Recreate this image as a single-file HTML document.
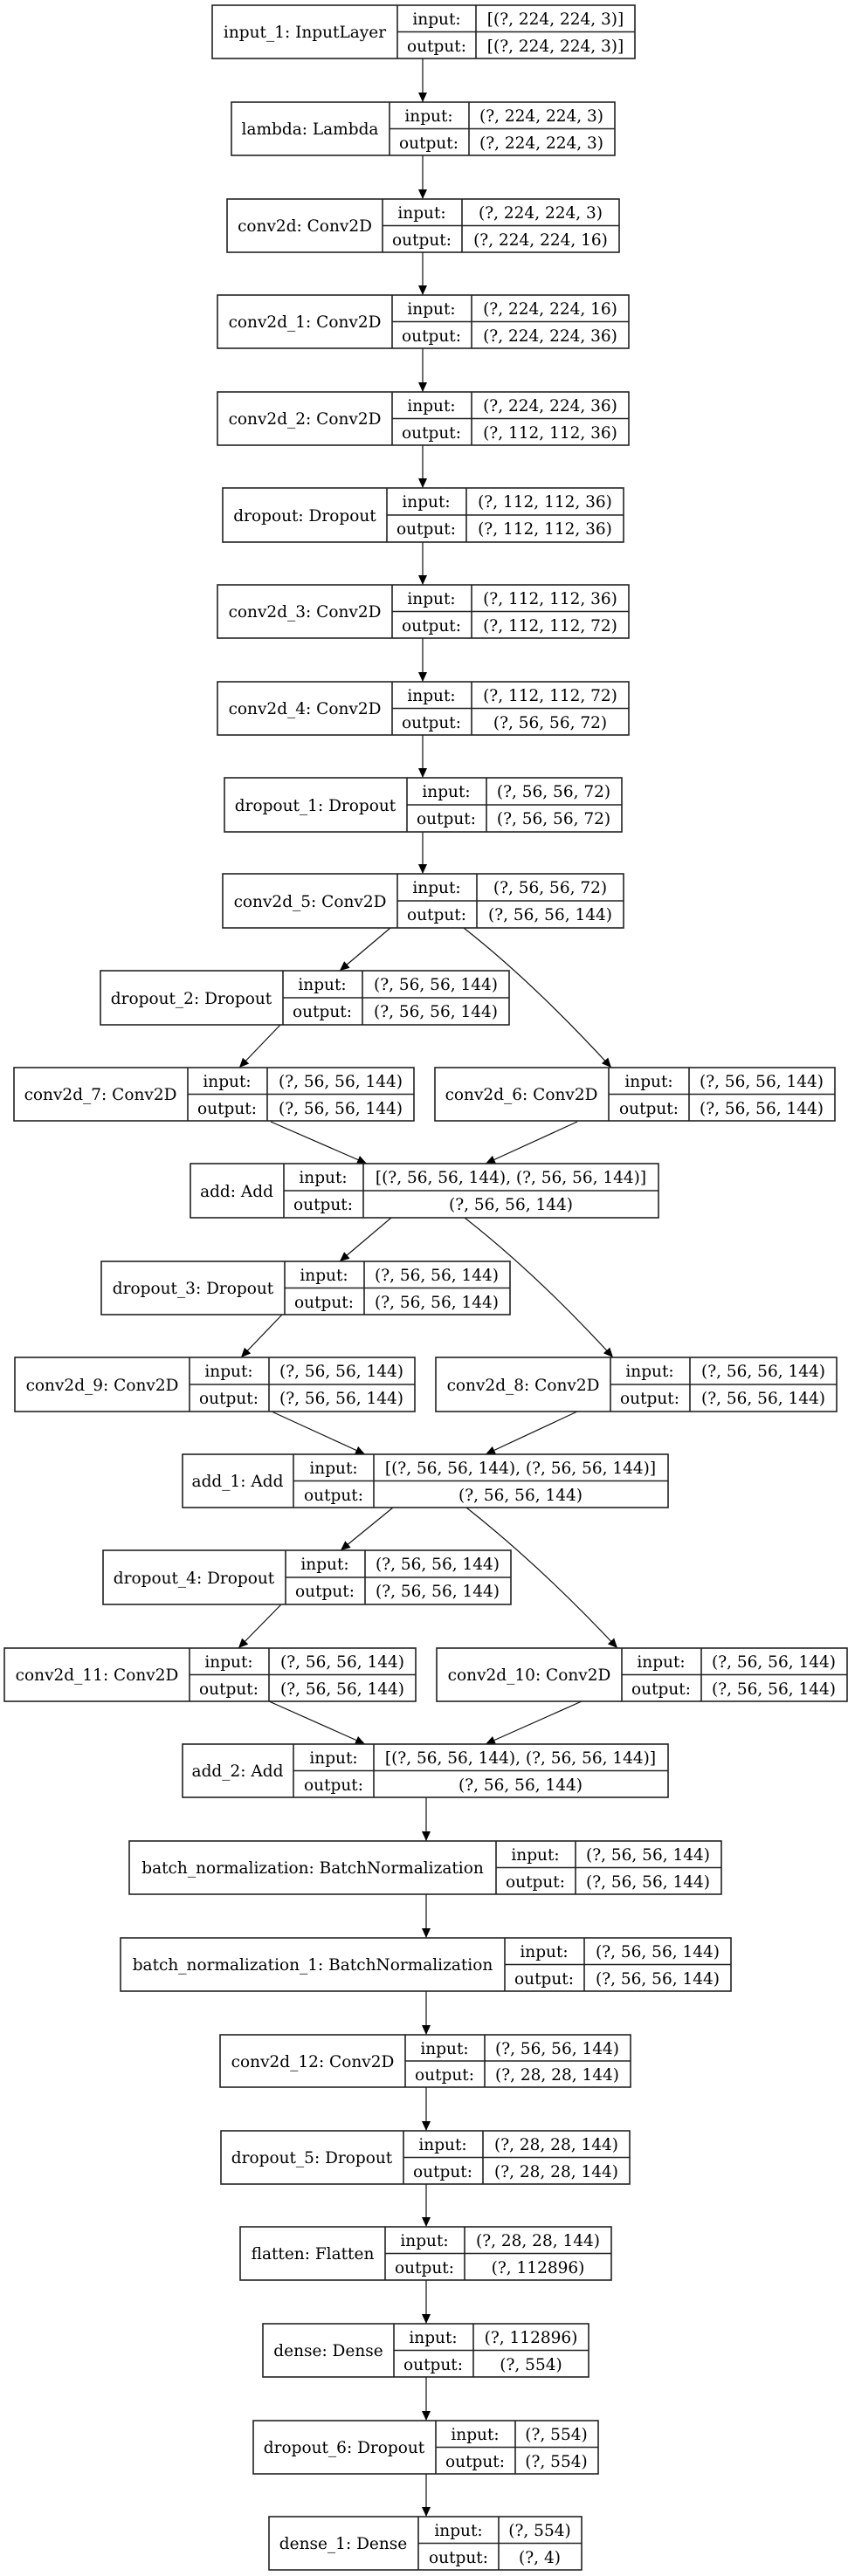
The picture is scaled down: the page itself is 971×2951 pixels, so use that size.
<!DOCTYPE html>
<html><head><meta charset="utf-8">
<style>
html,body{margin:0;padding:0;background:#fff;}
svg{display:block;}
text{font-family:"DejaVu Serif","Liberation Serif",serif;font-size:18.5px;fill:#000;text-anchor:middle;}
.b{fill:none;stroke:#222;stroke-width:1.6;}
.e{fill:none;stroke:#111;stroke-width:1.2;}
</style></head><body>
<svg width="971" height="2951" viewBox="0 0 971 2951" xmlns="http://www.w3.org/2000/svg">
<defs>
<marker id="a" markerWidth="12" markerHeight="14" refX="11" refY="5" orient="auto" markerUnits="userSpaceOnUse" viewBox="0 0 12 10">
<path d="M0,0 L11,5 L0,10 z" fill="#000"/>
</marker>
</defs>

<g class="e" marker-end="url(#a)">
<path d="M484,67 L484,117"/>
<path d="M484,178 L484,228"/>
<path d="M484,289 L484,338"/>
<path d="M484,399 L484,449"/>
<path d="M484,510 L484,559"/>
<path d="M484,621 L484,670"/>
<path d="M484,731 L484,781"/>
<path d="M484,842 L484,891"/>
<path d="M484,953 L484,1001"/>
<path d="M447,1063 L389,1112"/>
<path d="M531,1063 Q610,1125 700,1223"/>
<path d="M321,1174 L274,1223"/>
<path d="M310,1285 L420,1333"/>
<path d="M661,1285 L556,1333"/>
<path d="M448,1395 L389,1445"/>
<path d="M532,1395 Q615,1460 702,1555"/>
<path d="M323,1506 L276,1555"/>
<path d="M311,1617 L418,1666"/>
<path d="M661,1617 L556,1666"/>
<path d="M450,1727 L390,1776"/>
<path d="M534,1727 Q620,1795 707,1888"/>
<path d="M322,1838 L273,1888"/>
<path d="M308,1949 L418,1998"/>
<path d="M666,1949 L556,1998"/>
<path d="M488,2059 L488,2109"/>
<path d="M488,2170 L488,2220"/>
<path d="M488,2281 L488,2331"/>
<path d="M488,2391 L488,2441"/>
<path d="M488,2502 L488,2551"/>
<path d="M488,2612 L488,2662"/>
<path d="M488,2723 L488,2773"/>
<path d="M488,2834 L488,2883"/>
</g>

<g class="b">
<rect x="243" y="6" width="484" height="61"/><path d="M455,6V67M545,6V67M455,36.5H727"/>
<rect x="265" y="117" width="439" height="61"/><path d="M446,117V178M537,117V178M446,147.5H704"/>
<rect x="260" y="228" width="449" height="61"/><path d="M438,228V289M529,228V289M438,258.5H709"/>
<rect x="249" y="338" width="471" height="61"/><path d="M449,338V399M540,338V399M449,368.5H720"/>
<rect x="249" y="449" width="471" height="61"/><path d="M449,449V510M540,449V510M449,479.5H720"/>
<rect x="255" y="559" width="459" height="62"/><path d="M443,559V621M534,559V621M443,590H714"/>
<rect x="249" y="670" width="471" height="61"/><path d="M449,670V731M540,670V731M449,700.5H720"/>
<rect x="249" y="781" width="471" height="61"/><path d="M449,781V842M540,781V842M449,811.5H720"/>
<rect x="257" y="891" width="455" height="62"/><path d="M466,891V953M557,891V953M466,922H712"/>
<rect x="255" y="1001" width="459" height="62"/><path d="M455,1001V1063M546,1001V1063M455,1032H714"/>
<rect x="115" y="1112" width="468" height="62"/><path d="M324,1112V1174M415,1112V1174M324,1143H583"/>
<rect x="16" y="1223" width="458" height="61"/><path d="M215,1223V1284M306,1223V1284M215,1253.5H474"/>
<rect x="498" y="1223" width="458" height="61"/><path d="M697,1223V1284M789,1223V1284M697,1253.5H956"/>
<rect x="218" y="1333" width="536" height="62"/><path d="M325,1333V1395M416,1333V1395M325,1364H754"/>
<rect x="116" y="1445" width="468" height="61"/><path d="M326,1445V1506M417,1445V1506M326,1475.5H584"/>
<rect x="17" y="1555" width="458" height="62"/><path d="M217,1555V1617M308,1555V1617M217,1586H475"/>
<rect x="499" y="1555" width="459" height="62"/><path d="M699,1555V1617M790,1555V1617M699,1586H958"/>
<rect x="209" y="1666" width="556" height="61"/><path d="M336,1666V1727M428,1666V1727M336,1696.5H765"/>
<rect x="118" y="1776" width="467" height="62"/><path d="M327,1776V1838M418,1776V1838M327,1807H585"/>
<rect x="5" y="1888" width="471" height="61"/><path d="M217,1888V1949M308,1888V1949M217,1918.5H476"/>
<rect x="500" y="1888" width="470" height="61"/><path d="M712,1888V1949M803,1888V1949M712,1918.5H970"/>
<rect x="209" y="1998" width="556" height="61"/><path d="M336,1998V2059M428,1998V2059M336,2028.5H765"/>
<rect x="148" y="2109" width="678" height="61"/><path d="M568,2109V2170M659,2109V2170M568,2139.5H826"/>
<rect x="138" y="2220" width="699" height="61"/><path d="M578,2220V2281M669,2220V2281M578,2250.5H837"/>
<rect x="252" y="2331" width="470" height="60"/><path d="M464,2331V2391M555,2331V2391M464,2361H722"/>
<rect x="253" y="2441" width="468" height="61"/><path d="M462,2441V2502M553,2441V2502M462,2471.5H721"/>
<rect x="275" y="2551" width="425" height="61"/><path d="M441,2551V2612M532,2551V2612M441,2581.5H700"/>
<rect x="301" y="2662" width="373" height="61"/><path d="M451,2662V2723M542,2662V2723M451,2692.5H674"/>
<rect x="290" y="2773" width="395" height="61"/><path d="M499,2773V2834M590,2773V2834M499,2803.5H685"/>
<rect x="308" y="2883" width="358" height="61"/><path d="M479,2883V2944M571,2883V2944M479,2913.5H666"/>
</g>

<g transform="translate(0,1)">
<text x="349" y="42">input_1: InputLayer</text><text x="500" y="27">input:</text><text x="636" y="27">[(?, 224, 224, 3)]</text><text x="500" y="58">output:</text><text x="636" y="58">[(?, 224, 224, 3)]</text>

<text x="355" y="153">lambda: Lambda</text><text x="491" y="138">input:</text><text x="620" y="138">(?, 224, 224, 3)</text><text x="491" y="169">output:</text><text x="620" y="169">(?, 224, 224, 3)</text>

<text x="349" y="264">conv2d: Conv2D</text><text x="483" y="249">input:</text><text x="619" y="249">(?, 224, 224, 3)</text><text x="483" y="280">output:</text><text x="619" y="280">(?, 224, 224, 16)</text>

<text x="349" y="374">conv2d_1: Conv2D</text><text x="494" y="359">input:</text><text x="630" y="359">(?, 224, 224, 16)</text><text x="494" y="390">output:</text><text x="630" y="390">(?, 224, 224, 36)</text>

<text x="349" y="485">conv2d_2: Conv2D</text><text x="494" y="470">input:</text><text x="630" y="470">(?, 224, 224, 36)</text><text x="494" y="501">output:</text><text x="630" y="501">(?, 112, 112, 36)</text>

<text x="349" y="596">dropout: Dropout</text><text x="488" y="580">input:</text><text x="624" y="580">(?, 112, 112, 36)</text><text x="488" y="611">output:</text><text x="624" y="611">(?, 112, 112, 36)</text>

<text x="349" y="706">conv2d_3: Conv2D</text><text x="494" y="691">input:</text><text x="630" y="691">(?, 112, 112, 36)</text><text x="494" y="722">output:</text><text x="630" y="722">(?, 112, 112, 72)</text>

<text x="349" y="817">conv2d_4: Conv2D</text><text x="494" y="802">input:</text><text x="630" y="802">(?, 112, 112, 72)</text><text x="494" y="833">output:</text><text x="630" y="833">(?, 56, 56, 72)</text>

<text x="361" y="928">dropout_1: Dropout</text><text x="511" y="912">input:</text><text x="634" y="912">(?, 56, 56, 72)</text><text x="511" y="943">output:</text><text x="634" y="943">(?, 56, 56, 72)</text>

<text x="355" y="1038">conv2d_5: Conv2D</text><text x="500" y="1022">input:</text><text x="630" y="1022">(?, 56, 56, 72)</text><text x="500" y="1053">output:</text><text x="630" y="1053">(?, 56, 56, 144)</text>

<text x="219" y="1149">dropout_2: Dropout</text><text x="369" y="1133">input:</text><text x="499" y="1133">(?, 56, 56, 144)</text><text x="369" y="1164">output:</text><text x="499" y="1164">(?, 56, 56, 144)</text>

<text x="115" y="1259">conv2d_7: Conv2D</text><text x="260" y="1244">input:</text><text x="390" y="1244">(?, 56, 56, 144)</text><text x="260" y="1275">output:</text><text x="390" y="1275">(?, 56, 56, 144)</text>

<text x="597" y="1259">conv2d_6: Conv2D</text><text x="743" y="1244">input:</text><text x="872" y="1244">(?, 56, 56, 144)</text><text x="743" y="1275">output:</text><text x="872" y="1275">(?, 56, 56, 144)</text>

<text x="271" y="1370">add: Add</text><text x="370" y="1354">input:</text><text x="585" y="1354">[(?, 56, 56, 144), (?, 56, 56, 144)]</text><text x="370" y="1385">output:</text><text x="585" y="1385">(?, 56, 56, 144)</text>

<text x="221" y="1481">dropout_3: Dropout</text><text x="371" y="1466">input:</text><text x="500" y="1466">(?, 56, 56, 144)</text><text x="371" y="1497">output:</text><text x="500" y="1497">(?, 56, 56, 144)</text>

<text x="117" y="1592">conv2d_9: Conv2D</text><text x="262" y="1576">input:</text><text x="391" y="1576">(?, 56, 56, 144)</text><text x="262" y="1607">output:</text><text x="391" y="1607">(?, 56, 56, 144)</text>

<text x="599" y="1592">conv2d_8: Conv2D</text><text x="744" y="1576">input:</text><text x="874" y="1576">(?, 56, 56, 144)</text><text x="744" y="1607">output:</text><text x="874" y="1607">(?, 56, 56, 144)</text>

<text x="272" y="1702">add_1: Add</text><text x="382" y="1687">input:</text><text x="596" y="1687">[(?, 56, 56, 144), (?, 56, 56, 144)]</text><text x="382" y="1718">output:</text><text x="596" y="1718">(?, 56, 56, 144)</text>

<text x="222" y="1813">dropout_4: Dropout</text><text x="372" y="1797">input:</text><text x="501" y="1797">(?, 56, 56, 144)</text><text x="372" y="1828">output:</text><text x="501" y="1828">(?, 56, 56, 144)</text>

<text x="111" y="1924">conv2d_11: Conv2D</text><text x="262" y="1909">input:</text><text x="392" y="1909">(?, 56, 56, 144)</text><text x="262" y="1940">output:</text><text x="392" y="1940">(?, 56, 56, 144)</text>

<text x="606" y="1924">conv2d_10: Conv2D</text><text x="757" y="1909">input:</text><text x="886" y="1909">(?, 56, 56, 144)</text><text x="757" y="1940">output:</text><text x="886" y="1940">(?, 56, 56, 144)</text>

<text x="272" y="2034">add_2: Add</text><text x="382" y="2019">input:</text><text x="596" y="2019">[(?, 56, 56, 144), (?, 56, 56, 144)]</text><text x="382" y="2050">output:</text><text x="596" y="2050">(?, 56, 56, 144)</text>

<text x="358" y="2145">batch_normalization: BatchNormalization</text><text x="613" y="2130">input:</text><text x="742" y="2130">(?, 56, 56, 144)</text><text x="613" y="2161">output:</text><text x="742" y="2161">(?, 56, 56, 144)</text>

<text x="358" y="2256">batch_normalization_1: BatchNormalization</text><text x="623" y="2241">input:</text><text x="753" y="2241">(?, 56, 56, 144)</text><text x="623" y="2272">output:</text><text x="753" y="2272">(?, 56, 56, 144)</text>

<text x="358" y="2367">conv2d_12: Conv2D</text><text x="509" y="2352">input:</text><text x="638" y="2352">(?, 56, 56, 144)</text><text x="509" y="2382">output:</text><text x="638" y="2382">(?, 28, 28, 144)</text>

<text x="357" y="2477">dropout_5: Dropout</text><text x="507" y="2462">input:</text><text x="637" y="2462">(?, 28, 28, 144)</text><text x="507" y="2493">output:</text><text x="637" y="2493">(?, 28, 28, 144)</text>

<text x="358" y="2587">flatten: Flatten</text><text x="486" y="2572">input:</text><text x="616" y="2572">(?, 28, 28, 144)</text><text x="486" y="2603">output:</text><text x="616" y="2603">(?, 112896)</text>

<text x="376" y="2698">dense: Dense</text><text x="496" y="2683">input:</text><text x="608" y="2683">(?, 112896)</text><text x="496" y="2714">output:</text><text x="608" y="2714">(?, 554)</text>

<text x="394" y="2809">dropout_6: Dropout</text><text x="544" y="2794">input:</text><text x="637" y="2794">(?, 554)</text><text x="544" y="2825">output:</text><text x="637" y="2825">(?, 554)</text>

<text x="393" y="2919">dense_1: Dense</text><text x="525" y="2904">input:</text><text x="618" y="2904">(?, 554)</text><text x="525" y="2935">output:</text><text x="618" y="2935">(?, 4)</text>
</g>
</svg>
</body></html>
